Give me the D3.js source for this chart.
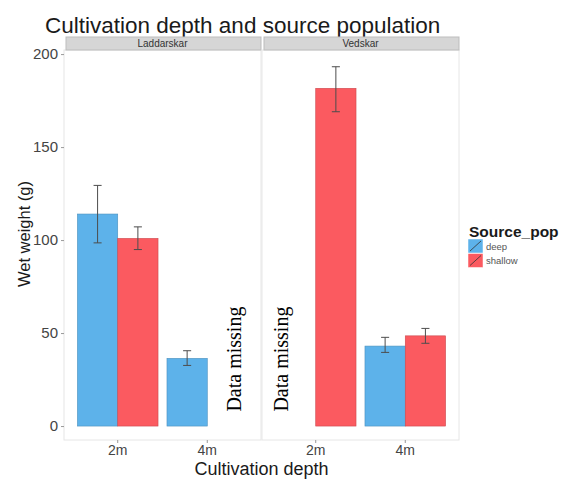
<!DOCTYPE html>
<html>
<head>
<meta charset="utf-8">
<script src="https://cdn.jsdelivr.net/npm/d3@7"></script>
<style>
    body { margin: 0; background: #fff; }
    text { font-family: "Liberation Sans", Arial, sans-serif; }
</style>
</head>
<body>
<div id="container"></div>
<script>
var width = 565,
    height = 479;

// chart data
var sites = ["Laddarskar", "Vedskar"];
var depths = ["2m", "4m"];
var pops = ["deep", "shallow"];
var popColors = ["#5db2ea", "#fb5a60"];

var barSite = ["Laddarskar", "Laddarskar", "Laddarskar", "Vedskar", "Vedskar", "Vedskar"];
var barDepth = ["2m", "2m", "4m", "2m", "4m", "4m"];
var barPop = ["deep", "shallow", "deep", "shallow", "deep", "shallow"];
var weight = [114, 100.9, 36.4, 181.6, 43.0, 48.5];
var errLow = [98.5, 94.9, 32.6, 169.0, 39.6, 44.5];
var errHigh = [129.4, 107.1, 40.5, 193.2, 47.7, 52.5];

var yTicks = [0, 50, 100, 150, 200];

// "Data missing" notes (x in depth-index units, like annotate())
var missSite = ["Laddarskar", "Vedskar"];
var missX = [1.3, -0.38];
var missY = [36, 36];
var missLabel = ["Data missing", "Data missing"];

var svg = d3.select("#container").append("svg")
    .attr("width", width)
    .attr("height", height);

svg.append("rect")
    .attr("width", width)
    .attr("height", height)
    .attr("fill", "#fff");

var panelTop = 50,
    panelBottom = 440,
    stripTop = 37;

var facetX = d3.scaleBand()
    .domain(sites)
    .range([64, 459])
    .paddingInner(0.005);

var y = d3.scaleLinear()
    .domain([-7.5, 202.2])
    .range([panelBottom, panelTop]);

var color = d3.scaleOrdinal().domain(pops).range(popColors);

var bars = [];
for (let i = 0; i < weight.length; ++i) {
    bars.push({
        site: barSite[i],
        depth: barDepth[i],
        pop: barPop[i],
        value: weight[i],
        lo: errLow[i],
        hi: errHigh[i]
    });
}

// title
svg.append("text")
    .attr("x", 45)
    .attr("y", 33)
    .attr("font-size", 22.5)
    .attr("fill", "#1a1a1a")
    .text("Cultivation depth and source population");

sites.forEach(function (s) {
    let x0 = facetX(s),
        x1 = x0 + facetX.bandwidth();

    let xDepth = d3.scaleBand()
        .domain(depths)
        .range([x0, x1])
        .paddingInner(0.1)
        .paddingOuter(0.15);
    let xPop = d3.scaleBand()
        .domain(pops)
        .range([0, xDepth.bandwidth()]);
    // continuous version of the depth axis for annotations
    let xIdx = d3.scaleLinear()
        .domain([-0.6, 1.6])
        .range([x0, x1]);

    let g = svg.append("g");

    g.append("rect")
        .attr("x", x0)
        .attr("y", panelTop)
        .attr("width", x1 - x0)
        .attr("height", panelBottom - panelTop)
        .attr("fill", "#fff")
        .attr("stroke", "#e6e6e6")
        .attr("stroke-width", 1);

    // strip
    g.append("rect")
        .attr("x", x0 + 2)
        .attr("y", stripTop)
        .attr("width", x1 - x0 - 2)
        .attr("height", panelTop - stripTop)
        .attr("fill", "#d6d6d6")
        .attr("stroke", "#bdbdbd")
        .attr("stroke-width", 1);
    g.append("text")
        .attr("x", (x0 + x1) / 2)
        .attr("y", stripTop + 9.5)
        .attr("text-anchor", "middle")
        .attr("font-size", 10)
        .attr("fill", "#333")
        .text(s);

    let sb = bars.filter(d => d.site == s);

    g.selectAll(".bar")
        .data(sb)
        .enter().append("rect")
        .attr("class", "bar")
        .attr("x", d => xDepth(d.depth) + xPop(d.pop))
        .attr("y", d => y(d.value))
        .attr("width", xPop.bandwidth())
        .attr("height", d => y(0) - y(d.value))
        .attr("fill", d => color(d.pop))
        .attr("stroke", d => d3.color(color(d.pop)).darker(0.6))
        .attr("stroke-width", 0.6);

    let ew = xPop.bandwidth() * 0.1;
    let eb = g.selectAll(".err")
        .data(sb)
        .enter().append("g")
        .attr("class", "err")
        .attr("stroke", "#4d4d4d")
        .attr("stroke-width", 1)
        .attr("transform", d => "translate(" + (xDepth(d.depth) + xPop(d.pop) + xPop.bandwidth() / 2) + ",0)");
    eb.append("line")
        .attr("y1", d => y(d.lo))
        .attr("y2", d => y(d.hi));
    eb.append("line")
        .attr("x1", -ew).attr("x2", ew)
        .attr("y1", d => y(d.hi)).attr("y2", d => y(d.hi));
    eb.append("line")
        .attr("x1", -ew).attr("x2", ew)
        .attr("y1", d => y(d.lo)).attr("y2", d => y(d.lo));

    // x axis
    let xa = g.append("g")
        .attr("transform", "translate(0," + panelBottom + ")")
        .call(d3.axisBottom(xDepth).tickSize(3).tickPadding(2));
    xa.select(".domain").remove();
    xa.selectAll("line").attr("stroke", "#999");
    xa.selectAll("text")
        .attr("font-size", 14)
        .attr("fill", "#444")
        .style("font-family", "'Liberation Sans', Arial, sans-serif");

    // annotations
    for (let i = 0; i < missSite.length; ++i) {
        if (missSite[i] != s) continue;
        let tx = xIdx(missX[i]),
            ty = y(missY[i]);
        g.append("text")
            .attr("transform", "translate(" + tx + "," + ty + ") rotate(-90)")
            .attr("text-anchor", "middle")
            .attr("dy", "0.32em")
            .attr("font-size", 20)
            .style("font-family", "'Liberation Serif', 'Times New Roman', serif")
            .attr("fill", "#000")
            .text(missLabel[i]);
    }
});

// y axis
var ya = svg.append("g")
    .attr("transform", "translate(" + facetX("Laddarskar") + ",0)")
    .call(d3.axisLeft(y).tickValues(yTicks).tickSize(3).tickPadding(3));
ya.select(".domain").remove();
ya.selectAll("line").attr("stroke", "#999");
ya.selectAll("text")
    .attr("font-size", 15)
    .attr("fill", "#444")
    .style("font-family", "'Liberation Sans', Arial, sans-serif");

// axis titles
svg.append("text")
    .attr("x", (facetX("Laddarskar") + facetX("Vedskar") + facetX.bandwidth()) / 2)
    .attr("y", 475)
    .attr("text-anchor", "middle")
    .attr("font-size", 18)
    .attr("fill", "#1a1a1a")
    .text("Cultivation depth");

svg.append("text")
    .attr("transform", "translate(30,234) rotate(-90)")
    .attr("text-anchor", "middle")
    .attr("font-size", 16.5)
    .attr("fill", "#1a1a1a")
    .text("Wet weight (g)");

// legend
var lg = svg.append("g")
    .attr("transform", "translate(468,238)");
lg.append("text")
    .attr("x", 1)
    .attr("y", -1)
    .attr("font-size", 15.5)
    .attr("font-weight", "bold")
    .attr("fill", "#1a1a1a")
    .text("Source_pop");
var li = lg.selectAll(".key")
    .data(pops)
    .enter().append("g")
    .attr("class", "key")
    .attr("transform", (d, i) => "translate(0," + (1 + i * 14.5) + ")");
li.append("rect")
    .attr("width", 15)
    .attr("height", 14)
    .attr("fill", d => color(d))
    .attr("stroke", "#fff")
    .attr("stroke-width", 0.5);
li.append("line")
    .attr("x1", 2).attr("y1", 12)
    .attr("x2", 13).attr("y2", 2)
    .attr("stroke", "#333")
    .attr("stroke-width", 0.8);
li.append("text")
    .attr("x", 18)
    .attr("y", 10.5)
    .attr("font-size", 9.5)
    .attr("fill", "#555")
    .text(d => d);
</script>
</body>
</html>
